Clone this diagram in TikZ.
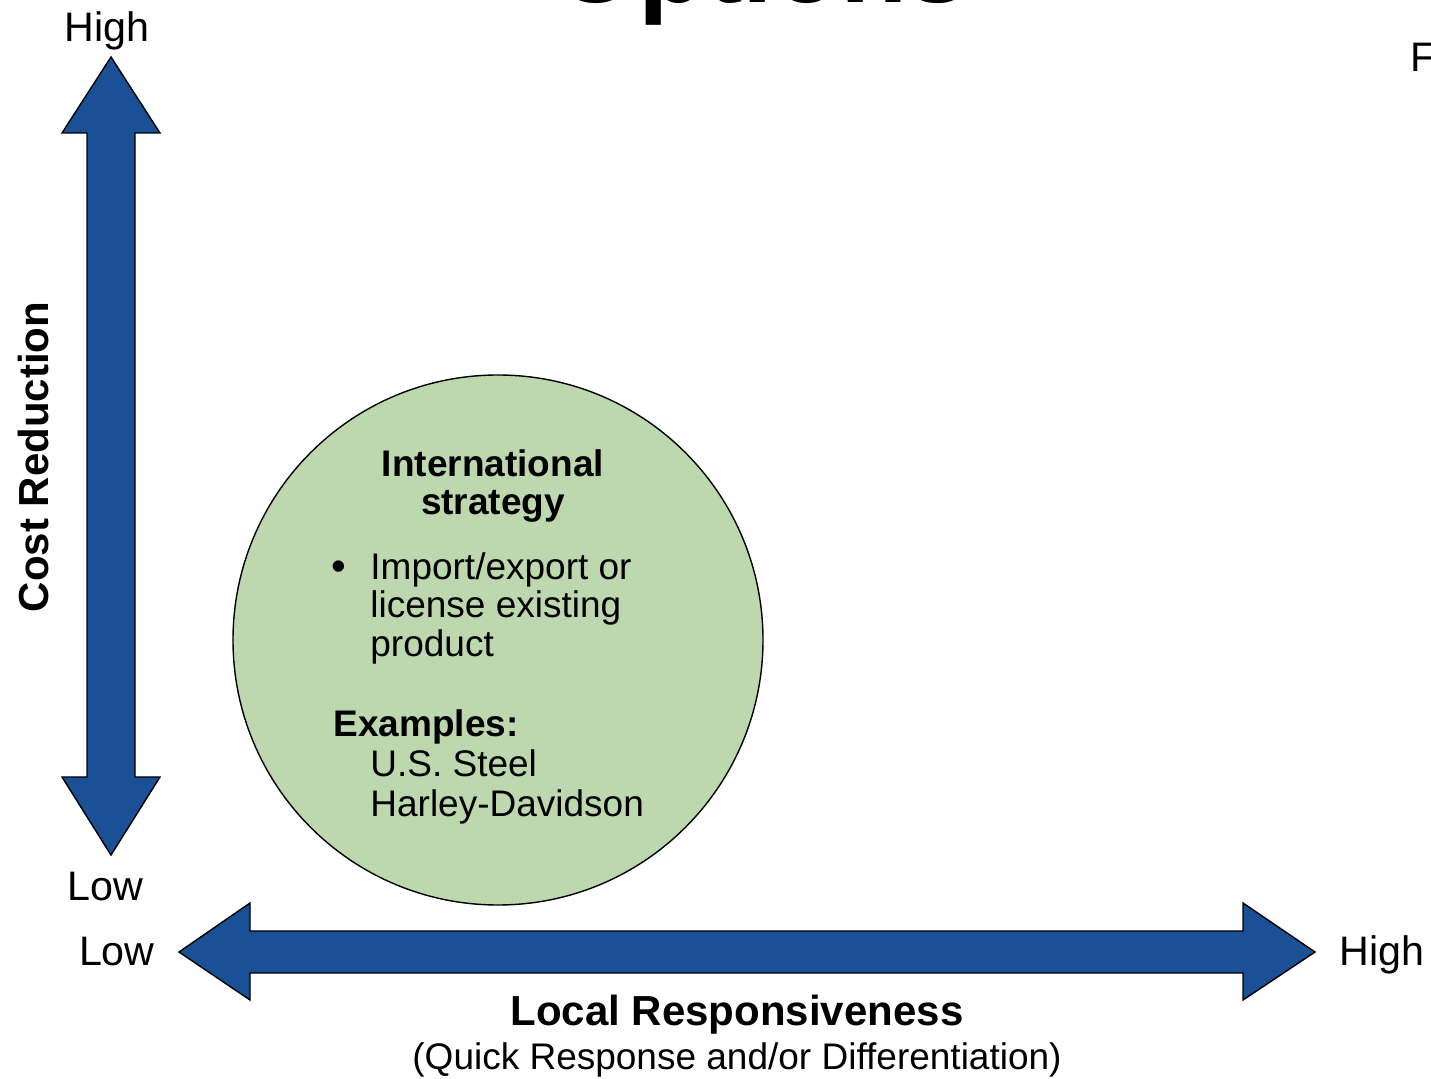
\documentclass[tikz,border=0pt]{standalone}
\usepackage{fontspec}
\setmainfont{Liberation Sans}
\usepackage{xcolor}
\definecolor{axisblue}{RGB}{26,80,150}
\definecolor{circgreen}{RGB}{189,215,174}

\begin{document}
\begin{tikzpicture}[
  x=0.5pt, y=-0.5pt,
  axis/.style={draw=black, line width=0.7pt, fill=axisblue, line join=miter},
  level/.style={inner sep=0pt, font=\fontsize{20.6pt}{24pt}\selectfont},
  axistitle/.style={inner sep=0pt, font=\fontsize{21pt}{25pt}\selectfont\bfseries},
  body/.style={inner sep=0pt, anchor=base west, font=\fontsize{18.5pt}{22pt}\selectfont},
  head/.style={inner sep=0pt, anchor=base, font=\fontsize{18.5pt}{22pt}\selectfont\bfseries}
]
  \clip (0,0) rectangle (1431,1079);

  % cut-off slide title and side text
  \node[inner sep=0pt, anchor=base west, font=\fontsize{55pt}{60pt}\selectfont\bfseries]
    (title) at (553,3) {Options};
  \node[level, anchor=base west] (side) at (1410,72) {F};

  % axes
  \draw[axis] (111,57) -- (160,133) -- (135,133) -- (135,777) -- (160,777)
    -- (111,855) -- (62,777) -- (87,777) -- (87,133) -- (62,133) -- cycle;
  \draw[axis] (179,952) -- (250,903) -- (250,931) -- (1243,931) -- (1243,903)
    -- (1315,952) -- (1243,1000) -- (1243,973) -- (250,973) -- (250,1000) -- cycle;

  \node[level, anchor=base] (costhigh) at (107,42) {High};
  \node[level, anchor=base] (costlow) at (105,900) {Low};
  \node[level, anchor=base east] (locallow) at (155,965) {Low};
  \node[level, anchor=base west] (localhigh) at (1339,965) {High};

  \node[axistitle, rotate=90] (cost) at (33,457) {Cost Reduction};
  \node[axistitle, anchor=base] (local) at (737,1025) {Local Responsiveness};
  \node[inner sep=0pt, anchor=base, font=\fontsize{18.5pt}{22pt}\selectfont]
    (localsub) at (737,1069) {(Quick Response and/or Differentiation)};

  % strategy circle
  \node[circle, draw=black, line width=0.7pt, fill=circgreen, minimum size=265pt,
    inner sep=0pt] (intl) at (498,640) {};
  \node[head] (intlhead) at (493,477) {International};
  \node[head] (intlhead2) at (493,515) {strategy};
  \node[body, anchor=center, font=\fontsize{21pt}{22pt}\selectfont] (dot) at (339,571) {\textbullet};
  \node[body] (line1) at (370,580) {Import/export or};
  \node[body] (line2) at (370,618) {license existing};
  \node[body] (line3) at (370,657) {product};
  \node[body, font=\fontsize{18.5pt}{22pt}\selectfont\bfseries] (examples) at (333,737) {Examples:};
  \node[body] (ex1) at (370,777) {U.S. Steel};
  \node[body] (ex2) at (370,817) {Harley-Davidson};
\end{tikzpicture}
\end{document}
